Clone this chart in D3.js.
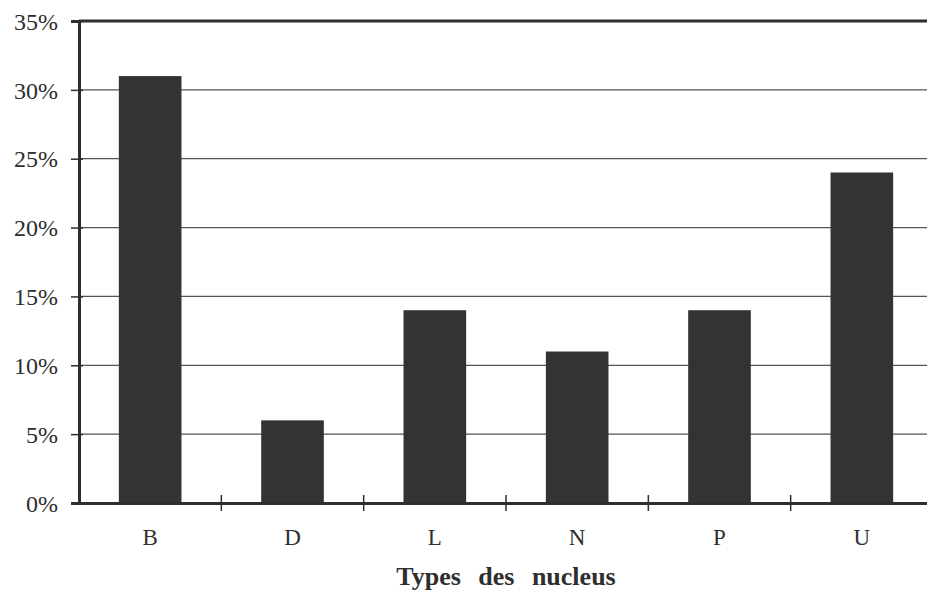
<!DOCTYPE html>
<html><head><meta charset="utf-8">
<script src="https://cdn.jsdelivr.net/npm/d3@7"></script>
<style>body{margin:0;background:#fff}svg{display:block}</style>
</head><body>
<script>
const categories = ["B","D","L","N","P","U"];
const values = [31, 6, 14, 11, 14, 24];
const yTicks = [0,5,10,15,20,25,30,35];
const xTitle = "Types des nucleus";

const W = 927, H = 590;
const m = {left:79, right:-6, top:21, bottom:87};
const svg = d3.select("body").append("svg").attr("width",W).attr("height",H);
const x = d3.scaleBand().domain(categories).range([m.left, W - m.right]).paddingInner(0.56).paddingOuter(0.28);
const xb = d3.scaleBand().domain(categories).range([m.left, W - m.right]);
const y = d3.scaleLinear().domain([0,35]).range([H - m.bottom, m.top]);
const font = "'Liberation Serif','Times New Roman',serif";
const ink = "#2e2e2e";

// gridlines
svg.append("g").selectAll("line").data(yTicks.filter(d=>d>0 && d<35)).join("line")
  .attr("x1", m.left).attr("x2", W).attr("y1", d=>y(d)).attr("y2", d=>y(d))
  .attr("stroke", "#555").attr("stroke-width", 1.2);

// bars
svg.append("g").selectAll("rect").data(categories).join("rect")
  .attr("x", d=>x(d)).attr("width", x.bandwidth())
  .attr("y", (d,i)=>y(values[i])).attr("height", (d,i)=>y(0)-y(values[i]))
  .attr("fill", "#333");

// top border
svg.append("line").attr("x1", m.left).attr("x2", W).attr("y1", y(35)).attr("y2", y(35))
  .attr("stroke", ink).attr("stroke-width", 3);

// y axis
const ya = d3.axisLeft(y).tickValues(yTicks).tickFormat(d=>d+"%").tickSize(8).tickPadding(13);
const gy = svg.append("g").attr("transform", `translate(${m.left},0)`).call(ya);
gy.select(".domain").attr("stroke", ink).attr("stroke-width", 3);
gy.selectAll(".tick line").attr("stroke", ink).attr("stroke-width", 1.5).attr("x2", -8).attr("x1", 4);
gy.selectAll(".tick text").attr("font-family", font).attr("font-size", 24).attr("fill", ink).attr("dy","0.34em");

// x axis
const xa = d3.axisBottom(xb).tickSize(0).tickPadding(26);
const gx = svg.append("g").attr("transform", `translate(0,${y(0)})`).call(xa);
gx.select(".domain").attr("stroke", ink).attr("stroke-width", 3);
gx.selectAll(".tick text").attr("font-family", font).attr("font-size", 23).attr("fill", ink);
// category boundary ticks
svg.append("g").selectAll("line").data(categories.slice(1)).join("line")
  .attr("x1", d=>xb(d)).attr("x2", d=>xb(d)).attr("y1", y(0)-8).attr("y2", y(0)+8)
  .attr("stroke", ink).attr("stroke-width", 1.5);

svg.append("text").attr("x", (m.left + W - m.right)/2).attr("y", 585)
  .attr("text-anchor","middle").attr("font-family", font).attr("font-weight","bold")
  .attr("font-size", 26).attr("word-spacing", 11).attr("fill", ink).text(xTitle);
</script>
</body></html>
